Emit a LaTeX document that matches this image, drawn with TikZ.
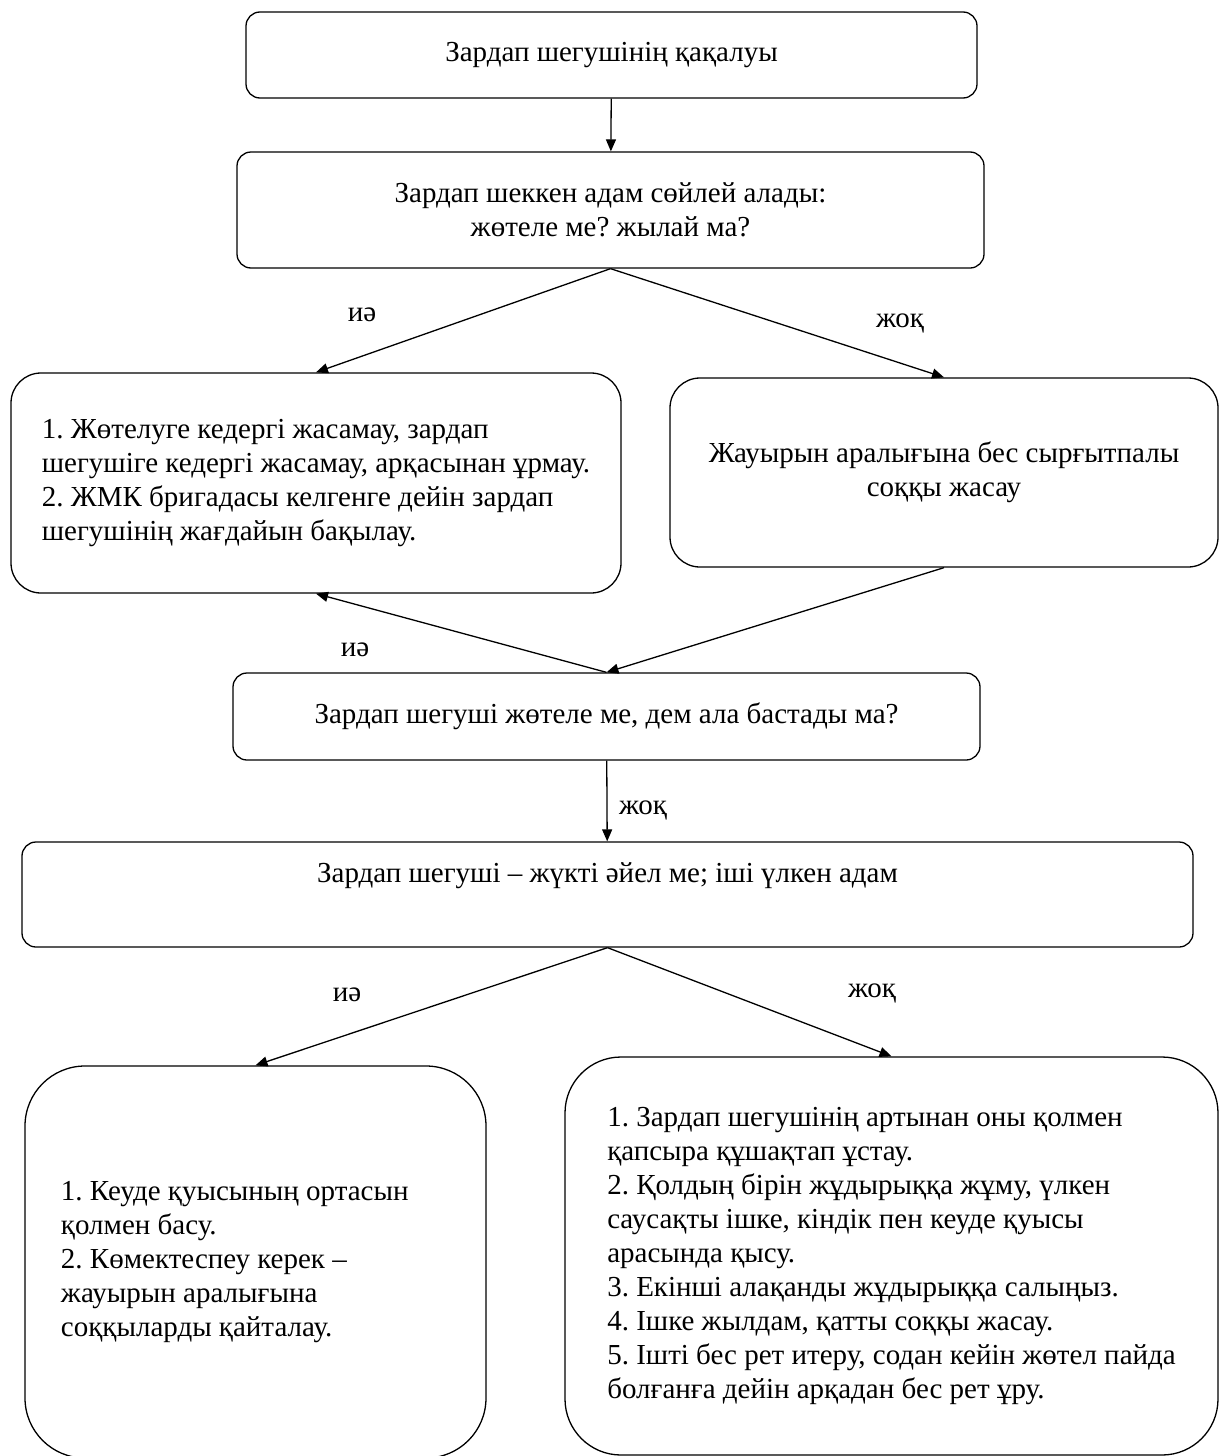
\documentclass[tikz,border=0pt]{standalone}
\usepackage{fontspec}
\setmainfont{Liberation Serif}
\usetikzlibrary{arrows.meta}

\begin{document}
\begin{tikzpicture}[->,>={Triangle[length=6pt,width=5pt]},shorten >=0pt,x=0.5pt,y=-0.5pt,
  line width=0.65pt,font=\fontsize{14.5}{17}\selectfont\frenchspacing,
  box node/.style={rectangle,rounded corners=7pt,draw,align=center,inner sep=0pt},
  list node/.style={rectangle,rounded corners=15pt,draw,align=left,inner sep=0pt},
  answer/.style={inner sep=1pt}]
  \useasboundingbox (0,0) rectangle (1221,1456);
  \node[box node, minimum width=365.5pt, minimum height=43pt] (choke) at (611.5,55) {Зардап шегушінің қақалуы};
  \node[box node, minimum width=373.5pt, minimum height=58pt] (speak) at (610.5,210) {Зардап шеккен адам сөйлей алады:\\ жөтеле ме? жылай ма?};
  \node[list node, minimum width=305pt, minimum height=110pt] (watch) at (316,483) {1. Жөтелуге кедергі жасамау,  зардап\\ шегушіге кедергі жасамау,  арқасынан ұрмау.\\ 2. ЖМК бригадасы келгенге дейін зардап\\ шегушінің жағдайын бақылау.};
  \node[list node, align=center, minimum width=274pt, minimum height=94.5pt] (blows) at (944,472.5) {Жауырын аралығына бес сырғытпалы\\ соққы жасау};
  \node[box node, minimum width=373.5pt, minimum height=43.5pt] (breath) at (606.5,716.5) {Зардап шегуші жөтеле ме, дем ала бастады ма?};
  \node[box node, minimum width=585.5pt, minimum height=52.5pt] (belly) at (607.5,894.5) {Зардап шегуші – жүкті әйел ме; іші үлкен адам\\ \strut};
  \node[list node, align=flush left, rounded corners=30pt, text width=194.5pt, inner xsep=18pt, minimum width=230.5pt, minimum height=196pt] (chest) at (255.5,1262) {1. Кеуде қуысының ортасын\\ қолмен басу.\\ 2. Көмектеспеу керек –\\ жауырын аралығына\\ соққыларды қайталау.};
  \node[list node, rounded corners=28pt, minimum width=326.5pt, minimum height=199pt] (thrust) at (891.5,1256) {1. Зардап шегушінің артынан  оны қолмен\\ қапсыра құшақтап ұстау.\\ 2. Қолдың бірін  жұдырыққа жұму, үлкен\\ саусақты ішке, кіндік пен кеуде қуысы\\ арасында қысу.\\ 3. Екінші алақанды жұдырыққа салыңыз.\\ 4. Ішке жылдам, қатты соққы жасау.\\ 5. Ішті бес рет итеру, содан кейін жөтел пайда\\ болғанға дейін арқадан бес рет ұру.};

  \node[answer] (yes1) at (362,315) {иә};
  \node[answer] (no1) at (900,323) {жоқ};
  \node[answer] (yes2) at (355,650) {иә};
  \node[answer] (no2) at (643,810) {жоқ};
  \node[answer] (yes3) at (347,995) {иә};
  \node[answer] (no3) at (872,993) {жоқ};

  \path
    (choke) edge (speak)
    (speak.south) edge (watch.north)
    (speak.south) edge (blows.north)
    (blows.south) edge (breath.north)
    (breath.north) edge (watch.south)
    (breath) edge (belly)
    (belly.south) edge (chest.north)
    (belly.south) edge (thrust.north);
\end{tikzpicture}
\end{document}
